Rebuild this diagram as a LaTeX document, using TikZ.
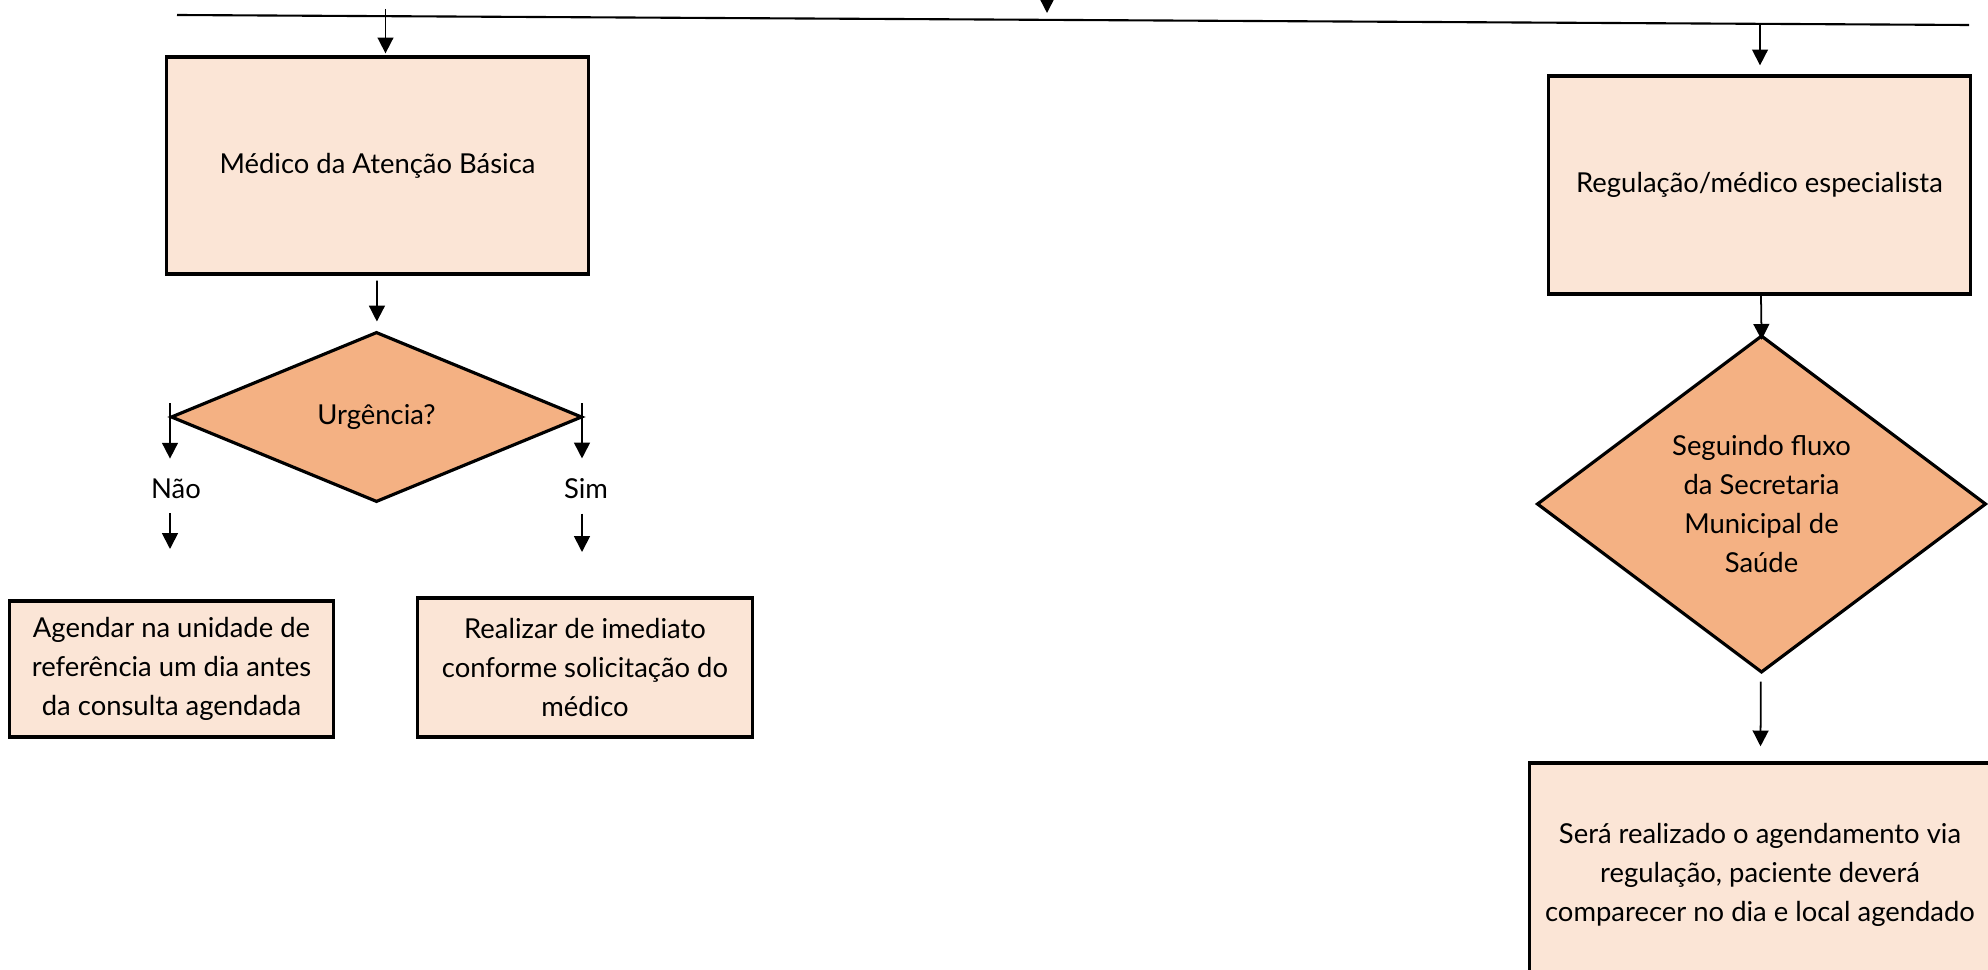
\documentclass[tikz,border=0pt]{standalone}
\usepackage{fontspec}
\setmainfont{Lato}
\usetikzlibrary{arrows.meta,shapes.geometric}
\definecolor{boxfill}{HTML}{FBE5D6}
\definecolor{decfill}{HTML}{F4B183}
\tikzset{
    txt/.style={font=\fontsize{7.8}{11}\selectfont, align=center},
    caixa/.style={txt, draw, line width=0.9pt, fill=boxfill, inner sep=0pt},
    decisao/.style={txt, draw, line width=0.9pt, fill=decfill, diamond, inner sep=0pt},
    seta/.style={-{Triangle[width=4.5pt,length=4.5pt]}, line width=0.5pt},
}
\begin{document}
\begin{tikzpicture}[x=0.01cm, y=-0.01cm]
                        % \helpgrid{3}{3}
                        \useasboundingbox (0,0) rectangle (1988,970);
                        \clip (0,0) rectangle (1988,970);

                        \node [caixa, minimum width=4.21cm, minimum height=2.17cm] (medico) at (377.5,165.5) {M\'edico da Aten\c{c}\~ao B\'asica};
                        \node [decisao, minimum width=4.11cm, minimum height=1.70cm] (urg) at (376.5,417) {Urg\^encia?};
                        \node [txt] (nao) at (176,489) {N\~ao};
                        \node [txt] (sim) at (586,489) {Sim};
                        \node [caixa, minimum width=3.23cm, minimum height=1.36cm] (agendar) at (171.5,669) {Agendar na unidade de\\refer\^encia um dia antes\\da consulta agendada};
                        \node [caixa, minimum width=3.34cm, minimum height=1.39cm] (realizar) at (585,667.5) {Realizar de imediato\\conforme solicita\c{c}\~ao do\\m\'edico};

                        \node [caixa, minimum width=4.21cm, minimum height=2.18cm] (regulacao) at (1759.5,185) {Regula\c{c}\~ao/m\'edico especialista};
                        \node [decisao, minimum width=4.49cm, minimum height=3.37cm] (fluxo) at (1761.5,504) {Seguindo fluxo\\da Secretaria\\Municipal de\\Sa\'ude};
                        \node [caixa, minimum width=4.60cm, minimum height=2.24cm] (sera) at (1760,875) {Ser\'a realizado o agendamento via\\regula\c{c}\~ao, paciente dever\'a\\comparecer no dia e local agendado};

                        % barra de distribuicao
                        \coordinate (barraA) at (177,15);
                        \coordinate (barraB) at (1969,25);
                        \coordinate (entrada) at (1047,-30);
                        \coordinate (desceA) at (385.5,9);
                        \coordinate (desceB) at (1760,23);
                        \draw [line width=0.6pt] (barraA)--(barraB);
                        \draw [seta] (entrada)--++(0,43);
                        \draw [seta, shorten >=0.02cm] (desceA)--(desceA |- medico.north);
                        \draw [seta, shorten >=0.09cm] (desceB)--(desceB |- regulacao.north);

                        % ramo esquerdo
                        \coordinate (esqA) at (170,403);
                        \coordinate (esqB) at (170,549);
                        \coordinate (dirA) at (582,403);
                        \coordinate (dirB) at (582,552);
                        \draw [seta, shorten <=0.05cm, shorten >=0.09cm] (medico)--(urg);
                        \draw [seta, shorten >=0.08cm] (esqA)--(esqA |- nao.north);
                        \draw [seta, shorten <=0.02cm] (esqA |- nao.south)--(esqB);
                        \draw [seta, shorten >=0.08cm] (dirA)--(dirA |- sim.north);
                        \draw [seta, shorten <=0.02cm] (dirA |- sim.south)--(dirB);

                        % ramo direito
                        \draw [seta, shorten >=-0.06cm] (regulacao)--(fluxo.north);
                        \draw [seta, shorten <=0.08cm, shorten >=0.15cm] (fluxo)--(sera);
                    \end{tikzpicture}
\end{document}
